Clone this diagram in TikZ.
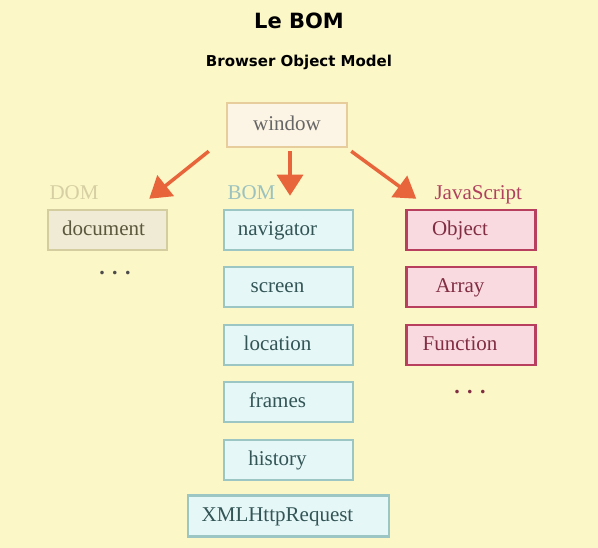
\documentclass[tikz,border=0pt]{standalone}
\usepackage{fontspec}
\setmainfont{Liberation Serif}
\newfontfamily\titlefont{DejaVu Sans}
\usetikzlibrary{arrows.meta,positioning}

\definecolor{bgyellow}{HTML}{FBF7C6}
\definecolor{winfill}{HTML}{FCF4E4}
\definecolor{windraw}{HTML}{E8CD9C}
\definecolor{domfill}{HTML}{EFEBD4}
\definecolor{domdraw}{HTML}{D4CDA0}
\definecolor{bomfill}{HTML}{E6F7F8}
\definecolor{bomdraw}{HTML}{9CC6C4}
\definecolor{jsfill}{HTML}{F9DAE0}
\definecolor{jsdraw}{HTML}{B8405E}
\definecolor{arrowred}{HTML}{E8643A}
\definecolor{domlabel}{HTML}{D6CFA3}
\definecolor{bomlabel}{HTML}{9CC2BF}
\definecolor{jslabel}{HTML}{B0405E}

\tikzset{
  box/.style={draw,line width=2.5pt,minimum width=129pt,minimum height=40pt,
    text height=15pt,text depth=4pt,font=\fontsize{21}{21}\selectfont},
  offleft/.style={execute at end node={\hspace*{22pt}}},
  bombox/.style={box,offleft,fill=bomfill,draw=bomdraw,text=black!55!teal!60!gray},
  jsbox/.style={box,offleft,fill=jsfill,draw=jsdraw,text=jsdraw!70!black},
  grouplabel/.style={anchor=base west,font=\fontsize{21}{21}\selectfont},
  dots/.style={font=\bfseries\fontsize{22}{22}\selectfont},
  arr/.style={-{Triangle[length=21pt,width=26pt]},line width=3.5pt,draw=arrowred},
}

\begin{document}
\begin{tikzpicture}[x=1pt,y=-1pt]

% background
\fill[bgyellow] (0,0) rectangle (598,548);
\useasboundingbox (0,0) rectangle (598,548);

% title
\node[font=\titlefont\bfseries\fontsize{21}{21}\selectfont] (title) at (299,21) {Le BOM};
\node[font=\titlefont\bfseries\fontsize{15}{15}\selectfont] (subtitle) at (299,62) {Browser Object Model};

% window
\node[box,minimum width=120pt,minimum height=44pt,fill=winfill,draw=windraw,text=black!60] (win) at (287,125) {window};

% group labels
\node[grouplabel,text=domlabel] (domlbl) at (46,200) {DOM};
\node[grouplabel,text=bomlabel] (bomlbl) at (224,200) {BOM};
\node[grouplabel,text=jslabel] (jslbl) at (431,200) {JavaScript};

% DOM column
\node[box,minimum width=119pt,fill=domfill,draw=domdraw,text=black!60!olive!80!gray,execute at end node={\hspace*{8pt}}] (doc) at (107.5,230) {document};
\node[dots,text=black!70] (docdots) at (115,273) {.\,\,.\,\,.};

% BOM column
\node[bombox] (nav) at (288.5,230) {navigator};
\node[bombox] (scr) at (288.5,287) {screen};
\node[bombox] (loc) at (288.5,345) {location};
\node[bombox] (frm) at (288.5,402) {frames};
\node[bombox] (hist) at (288.5,460) {history};
\node[bombox,minimum width=201pt,minimum height=41pt] (xhr) at (288.5,516) {XMLHttpRequest};

% JavaScript column
\node[jsbox] (obj) at (471,230) {Object};
\node[jsbox] (arrbox) at (471,287) {Array};
\node[jsbox] (func) at (471,345) {Function};
\node[dots,text=jsdraw!70!black] (jsdots) at (470,392) {.\,\,.\,\,.};

% arrows
\draw[arr] ([xshift=-17pt,yshift=-3pt]win.south west) -- ([xshift=-19pt,yshift=10pt]doc.north east);
\draw[arr] ([xshift=3pt,yshift=-3pt]win.south) -- ([xshift=1.5pt,yshift=13pt]nav.north);
\draw[arr] ([xshift=3pt,yshift=-3pt]win.south east) -- ([xshift=11pt,yshift=10pt]obj.north west);

\end{tikzpicture}
\end{document}
